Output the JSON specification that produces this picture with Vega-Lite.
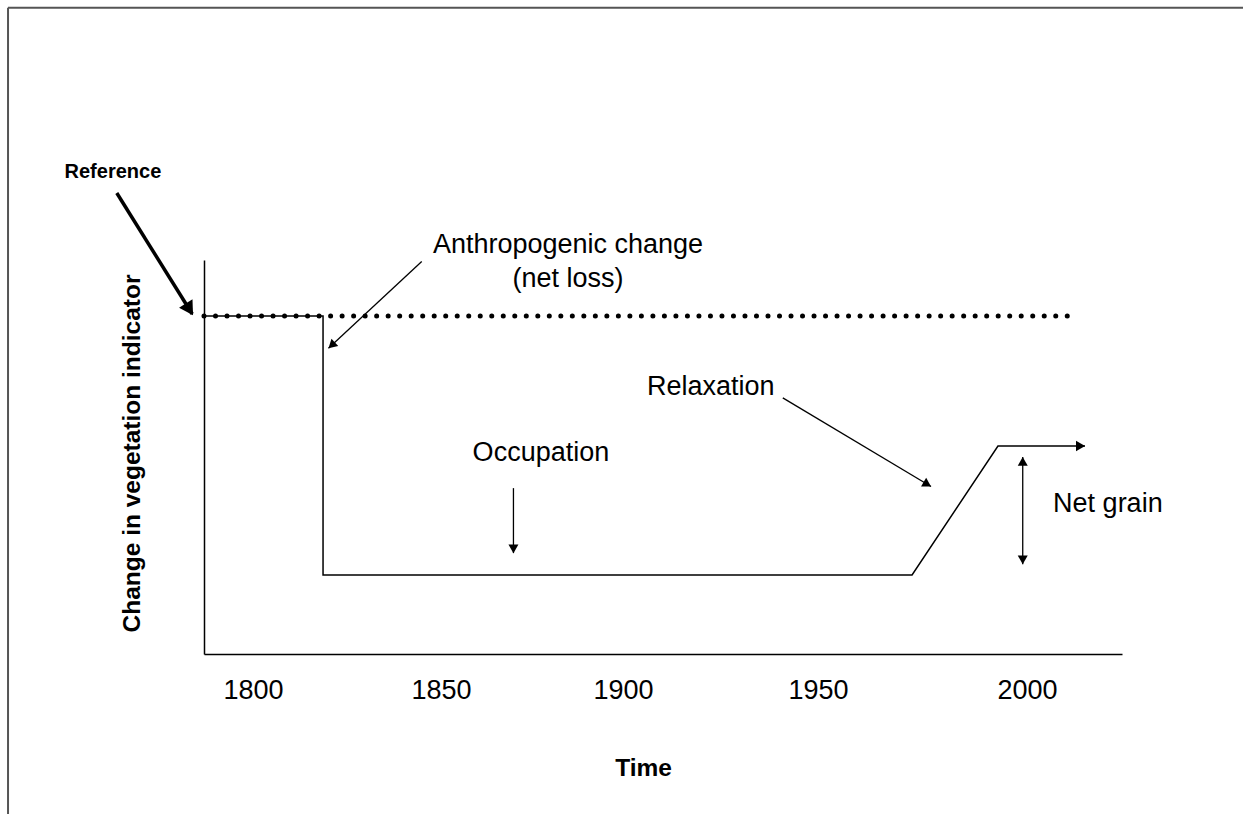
{
  "$schema": "https://vega.github.io/schema/vega-lite/v6.json",
  "width": 918,
  "height": 394,
  "autosize": {"type": "none"},
  "padding": {"left": 204, "top": 260, "right": 121, "bottom": 160},
  "background": "white",
  "config": {"view": {"stroke": null}},
  "datasets": {
    "frame": [
      {"year": 1736.7, "level": 164, "year_end": 2070, "level_end": 164},
      {"year": 1736.7, "level": 164, "year_end": 1736.7, "level_end": -50}
    ],
    "baseline": [
      {"year": 1787.34, "level": 85.8},
      {"year": 2011.4, "level": 85.8}
    ],
    "step": [
      {"seq": 1, "year": 1787.34, "level": 85.8},
      {"seq": 2, "year": 1818.1, "level": 85.8},
      {"seq": 3, "year": 1818.1, "level": 20.05},
      {"seq": 4, "year": 1970.3, "level": 20.05},
      {"seq": 5, "year": 1992.5, "level": 52.8},
      {"seq": 6, "year": 2015.0, "level": 52.8}
    ],
    "arrows": [
      {"id": "anthro", "year": 1843.6, "level": 99.6, "year_end": 1819.5, "level_end": 77.6},
      {"id": "occupation", "year": 1867.3, "level": 42.1, "year_end": 1867.3, "level_end": 25.6},
      {"id": "relaxation", "year": 1936.9, "level": 65.0, "year_end": 1975.2, "level_end": 42.5},
      {"id": "netgain", "year": 1998.9, "level": 50.0, "year_end": 1998.9, "level_end": 22.8}
    ],
    "refarrow": [
      {"id": "reference", "year": 1764.8, "level": 117.0, "year_end": 1784.3, "level_end": 86.3}
    ],
    "heads": [
      {"id": "anthro", "year": 1819.5, "level": 77.6},
      {"id": "occupation", "year": 1867.3, "level": 25.6},
      {"id": "relaxation", "year": 1975.2, "level": 42.5},
      {"id": "gain_up", "year": 1998.9, "level": 50.0},
      {"id": "gain_down", "year": 1998.9, "level": 22.8},
      {"id": "main", "year": 2015.0, "level": 52.8},
      {"id": "reference", "year": 1784.5, "level": 86.0}
    ],
    "labels": [
      {"label": "Anthropogenic change", "year": 1881.4, "level": 101.8},
      {"label": "(net loss)", "year": 1881.4, "level": 93.1},
      {"label": "Occupation", "year": 1874.4, "level": 49.0},
      {"label": "Relaxation", "year": 1918.3, "level": 65.7},
      {"label": "Net grain", "year": 2020.9, "level": 36.0}
    ],
    "reflabel": [
      {"label": "Reference", "year": 1763.8, "level": 120.8}
    ]
  },
  "encoding": {
    "x": {
      "field": "year",
      "type": "quantitative",
      "scale": {"domain": [1787.34, 2024.55], "nice": false, "zero": false},
      "axis": {
        "title": "Time",
        "values": [1800, 1848.6, 1895.6, 1946, 2000],
        "labelExpr": "format(round(datum.value/50)*50, 'd')",
        "ticks": false,
        "tickSize": 0,
        "grid": false,
        "domainColor": "black",
        "domainWidth": 1.5,
        "labelFont": "Liberation Sans",
        "labelFontSize": 27,
        "labelColor": "black",
        "labelBaseline": "alphabetic",
        "labelPadding": 44,
        "labelFlush": false,
        "labelOverlap": false,
        "titleFont": "Liberation Sans",
        "titleFontSize": 24.5,
        "titleFontWeight": "bold",
        "titleColor": "black",
        "titleX": 439,
        "titleY": 121,
        "titleBaseline": "alphabetic",
        "titleAlign": "center"
      }
    },
    "y": {
      "field": "level",
      "type": "quantitative",
      "scale": {"domain": [0, 100], "nice": false, "zero": false},
      "axis": {
        "title": "Change in vegetation indicator",
        "labels": false,
        "ticks": false,
        "tickSize": 0,
        "grid": false,
        "domainColor": "black",
        "domainWidth": 1.5,
        "titleFont": "Liberation Sans",
        "titleFontSize": 24.5,
        "titleFontWeight": "bold",
        "titleColor": "black",
        "titleX": -65,
        "titleY": 193,
        "titleAngle": -90,
        "titleBaseline": "alphabetic",
        "titleAlign": "center"
      }
    }
  },
  "layer": [
    {
      "data": {"name": "frame"},
      "mark": {"type": "rule", "color": "#555555", "strokeWidth": 2},
      "encoding": {"x2": {"field": "year_end"}, "y2": {"field": "level_end"}}
    },
    {
      "data": {"name": "baseline"},
      "mark": {"type": "line", "color": "black", "strokeWidth": 5, "strokeCap": "round", "strokeDash": [0.01, 11.5]},
      "encoding": {}
    },
    {
      "data": {"name": "step"},
      "mark": {"type": "line", "color": "black", "strokeWidth": 1.5},
      "encoding": {"order": {"field": "seq", "type": "quantitative"}}
    },
    {
      "data": {"name": "arrows"},
      "mark": {"type": "rule", "color": "black", "strokeWidth": 1.3},
      "encoding": {"x2": {"field": "year_end"}, "y2": {"field": "level_end"}}
    },
    {
      "data": {"name": "refarrow"},
      "mark": {"type": "rule", "color": "black", "strokeWidth": 3.5},
      "encoding": {"x2": {"field": "year_end"}, "y2": {"field": "level_end"}}
    },
    {
      "data": {"name": "heads"},
      "transform": [{"filter": "datum.id === 'anthro'"}],
      "mark": {"type": "point", "shape": "triangle-up", "filled": true, "size": 100, "angle": 227.2, "xOffset": 3.2, "yOffset": -2.9, "color": "black", "opacity": 1, "strokeWidth": 0}
    },
    {
      "data": {"name": "heads"},
      "transform": [{"filter": "datum.id === 'occupation'"}],
      "mark": {"type": "point", "shape": "triangle-up", "filled": true, "size": 100, "angle": 180, "xOffset": 0, "yOffset": -4.3, "color": "black", "opacity": 1, "strokeWidth": 0}
    },
    {
      "data": {"name": "heads"},
      "transform": [{"filter": "datum.id === 'relaxation'"}],
      "mark": {"type": "point", "shape": "triangle-up", "filled": true, "size": 100, "angle": 120.8, "xOffset": -3.7, "yOffset": -2.2, "color": "black", "opacity": 1, "strokeWidth": 0}
    },
    {
      "data": {"name": "heads"},
      "transform": [{"filter": "datum.id === 'gain_up'"}],
      "mark": {"type": "point", "shape": "triangle-up", "filled": true, "size": 100, "angle": 0, "xOffset": 0, "yOffset": 4.3, "color": "black", "opacity": 1, "strokeWidth": 0}
    },
    {
      "data": {"name": "heads"},
      "transform": [{"filter": "datum.id === 'gain_down'"}],
      "mark": {"type": "point", "shape": "triangle-up", "filled": true, "size": 100, "angle": 180, "xOffset": 0, "yOffset": -4.3, "color": "black", "opacity": 1, "strokeWidth": 0}
    },
    {
      "data": {"name": "heads"},
      "transform": [{"filter": "datum.id === 'main'"}],
      "mark": {"type": "point", "shape": "triangle-up", "filled": true, "size": 110, "angle": 90, "xOffset": -4.5, "yOffset": 0, "color": "black", "opacity": 1, "strokeWidth": 0}
    },
    {
      "data": {"name": "heads"},
      "transform": [{"filter": "datum.id === 'reference'"}],
      "mark": {"type": "point", "shape": "triangle-up", "filled": true, "size": 250, "angle": 148, "xOffset": -3.6, "yOffset": -5.8, "color": "black", "opacity": 1, "strokeWidth": 0}
    },
    {
      "data": {"name": "labels"},
      "mark": {"type": "text", "font": "Liberation Sans", "fontSize": 27, "align": "center", "baseline": "alphabetic", "color": "black"},
      "encoding": {"text": {"field": "label"}}
    },
    {
      "data": {"name": "reflabel"},
      "mark": {"type": "text", "font": "Liberation Sans", "fontSize": 20, "fontWeight": "bold", "align": "center", "baseline": "alphabetic", "color": "black"},
      "encoding": {"text": {"field": "label"}}
    }
  ]
}
